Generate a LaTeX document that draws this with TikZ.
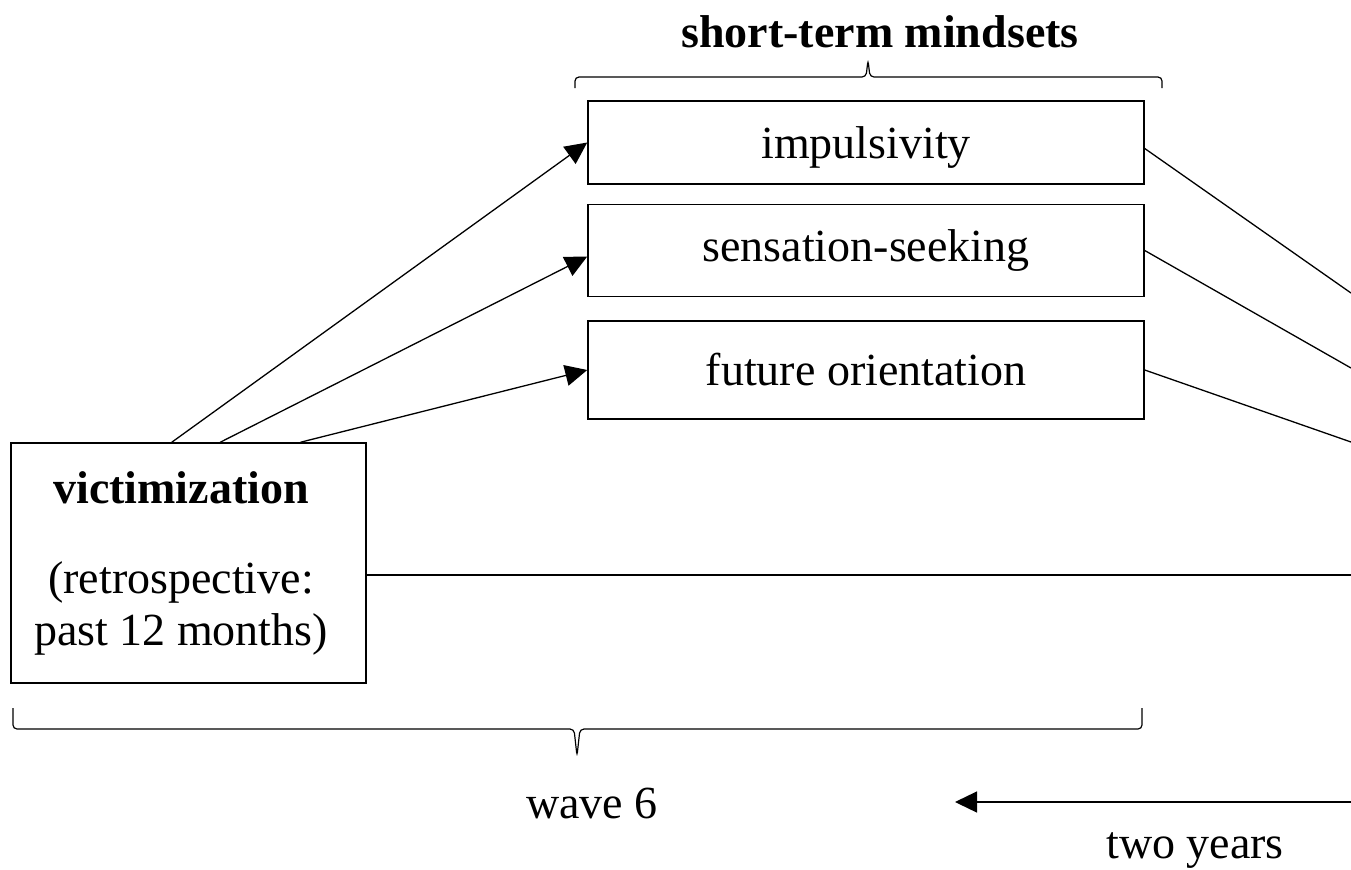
\documentclass[tikz,border=0pt]{standalone}
\usepackage{fontspec}
\setmainfont{Liberation Serif}
\usetikzlibrary{arrows.meta}
\usetikzlibrary{calc}
\usetikzlibrary{positioning}

\tikzset{
  block/.style={draw, line width=0.75pt, inner sep=0pt, minimum width=278pt, align=center},
  link/.style={line width=0.65pt},
  curly/.style={line width=0.6pt, rounded corners=2pt}
}

\begin{document}
\begin{tikzpicture}[x=0.5pt, y=-0.5pt, >={Triangle[length=11pt,width=10.5pt]},
  font=\fontsize{23}{26}\selectfont]
    % We start by placing the blocks
\useasboundingbox (0,0) rectangle (1351,869);

\node (title) at (880,32) {\textbf{short-term mindsets}};

\node[block, minimum height=41.5pt, text height=18pt, text depth=2pt] (imp) at (866,142.5) {impulsivity};
\node[block, minimum height=46pt, below=9.5pt of imp] (sens) {sensation-seeking};
\node[block, minimum height=49pt, below=11.5pt of sens] (fut) {future orientation};

\node[block, minimum width=177.5pt, minimum height=120pt] (vic) at (188.5,563) {};
\node[align=center] (victxt) at (181,563)
  {\textbf{victimization}\\[19pt](retrospective:\\past 12 months)};

% the pieces running on to the right
\coordinate (r1) at (1351,293);
\coordinate (r2) at (1351,368);
\coordinate (r3) at (1351,442);
\coordinate (r4) at (1351,575);

\draw[link,->] ($(vic.north west)!0.453!(vic.north east)$) -- (imp.west);
\draw[link,->] ($(vic.north west)!0.589!(vic.north east)$) -- ($(sens.west)+(0,6)$);
\draw[link,->] ($(vic.north west)!0.814!(vic.north east)$) -- (fut.west);

\draw[link] ($(imp.east)+(0,6)$) -- (r1);
\draw[link] (sens.east) -- (r2);
\draw[link] (fut.east) -- (r3);
\draw[link] (vic.east |- r4) -- (r4);

% braces
\draw[curly] (575,88) |- (866,77) -- (868,60) -- (870,77) -| (1162,88);
\draw[curly] (13,708) |- (574,729) -- (577,756) -- (580,729) -| (1142,708);

\node (wave) at (592,803) {wave 6};
\coordinate (tR) at (1351,802);
\coordinate (tL) at (955,802);
\draw[link,->] (tR) -- (tL);
\node (years) at (1195,851) {two years};

\end{tikzpicture}
\end{document}
